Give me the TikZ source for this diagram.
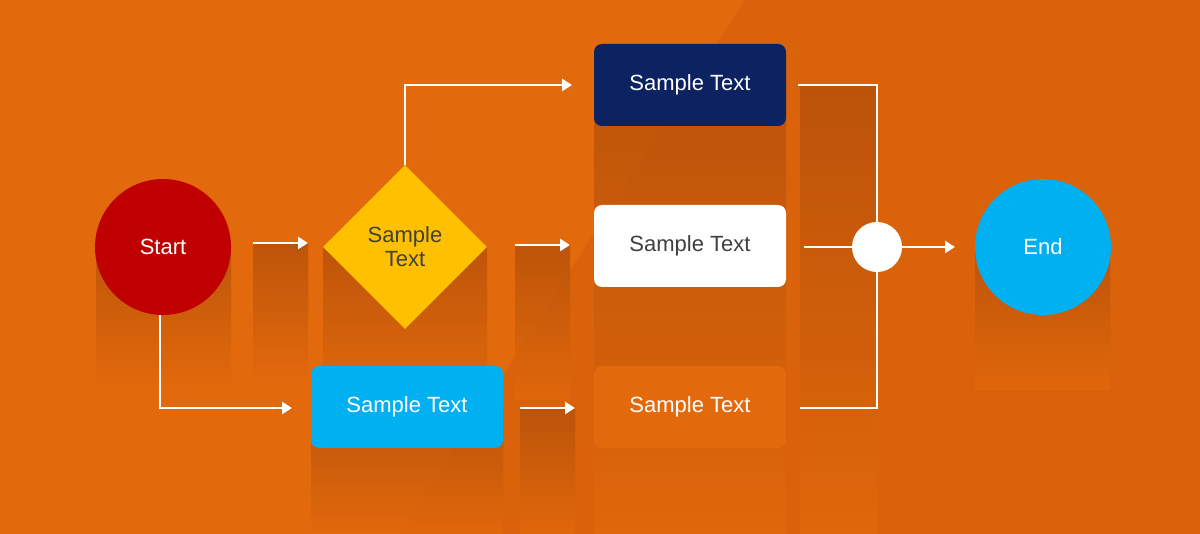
\documentclass[tikz,border=0pt]{standalone}
\usepackage{fontspec}
\setmainfont{Liberation Sans}
\usetikzlibrary{shapes.geometric,arrows.meta}
\definecolor{bg}{HTML}{E2690C}
\definecolor{bgd}{HTML}{D9620A}
\definecolor{shd}{HTML}{B5500A}
\definecolor{navy}{HTML}{0D2260}
\definecolor{cyanb}{HTML}{00B0F0}
\definecolor{redc}{HTML}{C00000}
\definecolor{gold}{HTML}{FFC000}
\definecolor{orb}{HTML}{E36A0C}
\definecolor{txt}{HTML}{404040}
\begin{document}
\begin{tikzpicture}[x=1pt,y=-1pt,
  lbl/.style={font=\fontsize{22}{25}\selectfont,align=center},
  box/.style={rounded corners=8pt,minimum width=192pt,minimum height=82pt,lbl,inner sep=0pt},
  circ/.style={circle,minimum size=136pt,lbl,inner sep=0pt},
  con/.style={white,line width=2.8pt},
  arr/.style={con,-{Triangle[length=10pt,width=12pt]}}]
\fill[bg] (0,0) rectangle (1200,534);
\fill[bgd] (745,0) -- (1200,0) -- (1200,534) -- (400,534) -- cycle;
% shadows
\foreach \a/\b/\c/\d in {96/231/247/385, 253/308/243/380, 323/487/247/400, 311/503/407/534, 594/786/85/534, 515/570/245/400, 520/575/408/534, 800/877/85/534, 975/1110/247/390}
  \shade[top color=shd, bottom color=bg, opacity=0.8] (\a,\c) rectangle (\b,\d);
% nodes
\node[circ,fill=redc,text=white] (start) at (163,247) {Start};
\node[diamond,fill=gold,minimum width=164pt,minimum height=164pt,inner sep=0pt,lbl,text=txt] (dec) at (405,247) {Sample\\[-1pt]Text};
\node[box,fill=navy,text=white] (b1) at (690,85) {Sample Text};
\node[box,fill=white,text=txt] (b2) at (690,246) {Sample Text};
\node[box,fill=cyanb,text=white] (b3) at (407,407) {Sample Text};
\node[box,fill=orb,text=white] (b4) at (690,407) {Sample Text};
\node[circle,fill=white,minimum size=50pt,inner sep=0pt] (j) at (877,247) {};
\node[circ,fill=cyanb,text=white] (end) at (1043,247) {End};
% connector endpoints
\coordinate (a1s) at (253,243); \coordinate (a1e) at (308,243);
\coordinate (a2s) at (515,245); \coordinate (a2e) at (570,245);
\coordinate (a3s) at (520,408); \coordinate (a3e) at (575,408);
\coordinate (ub) at (572,85); \coordinate (lb) at (292,408);
\coordinate (r1) at (798,85); \coordinate (r2) at (804,247); \coordinate (r3) at (800,408);
\coordinate (je) at (955,247);
\draw[arr] (a1s) -- (a1e);
\draw[arr] (a2s) -- (a2e);
\draw[arr] (a3s) -- (a3e);
\draw[arr] (dec.north) |- (ub);
\draw[arr] (start.south -| 160,0) |- (lb);
\draw[con] (r1) -| (j.north);
\draw[con] (r2) -- (j.west);
\draw[con] (r3) -| (j.south);
\draw[arr] (j.east) -- (je);
\end{tikzpicture}
\end{document}
